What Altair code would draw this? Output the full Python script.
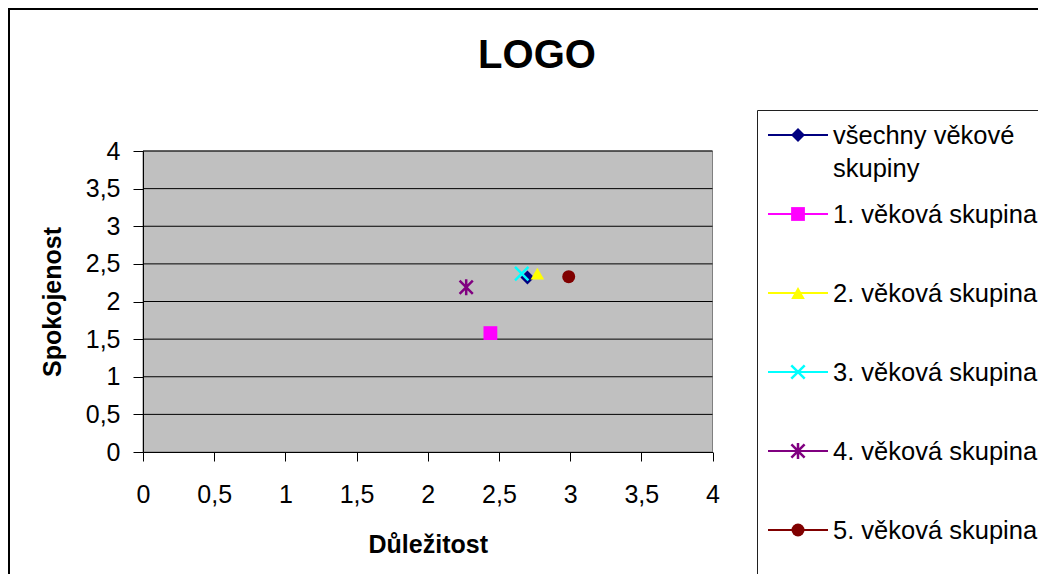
import altair as alt
import pandas as pd

# ---- data ----
SERIES = [
    "všechny věkové skupiny",
    "1. věková skupina",
    "2. věková skupina",
    "3. věková skupina",
    "4. věková skupina",
    "5. věková skupina",
]
LEGEND_LABELS = [
    "všechny věkové\nskupiny",
    "1. věková skupina",
    "2. věková skupina",
    "3. věková skupina",
    "4. věková skupina",
    "5. věková skupina",
]
IMPORTANCE = [2.70, 2.44, 2.77, 2.66, 2.27, 2.99]     # Důležitost (x)
SATISFACTION = [2.32, 1.58, 2.37, 2.37, 2.19, 2.33]   # Spokojenost (y)
TICKS = [0, 0.5, 1, 1.5, 2, 2.5, 3, 3.5, 4]
GRID = [0.5, 1, 1.5, 2, 2.5, 3, 3.5, 4]

COLORS = ["#000080", "#ff00ff", "#ffff00", "#00ffff", "#800080", "#800000"]
X_PATH = "M-1,-1L1,1M-1,1L1,-1"
AST_PATH = "M-1,-1L1,1M-1,1L1,-1M0,-1.2L0,1.2"
SHAPES = ["diamond", "square", "triangle-up", X_PATH, AST_PATH, "circle"]
SIZES = [196, 169, 230, 196, 210, 169]
STROKED = ["3. věková skupina", "4. věková skupina"]
FILLED_SERIES = [s for s in SERIES if s not in STROKED]

FONT = "Liberation Sans"
W, H = 1030, 566

points = pd.DataFrame({"series": SERIES, "x": IMPORTANCE, "y": SATISFACTION})
legend_df = pd.DataFrame({"series": SERIES, "label": LEGEND_LABELS})
grid_df = pd.DataFrame({"v": GRID})
dummy = pd.DataFrame({"a": [0]})

xs = alt.Scale(domain=[0, 4], range=[135, 704.5], nice=False, zero=False)
ys = alt.Scale(domain=[0, 4], range=[444, 143], nice=False, zero=False)
lx = alt.Scale(domain=[0, 1], range=[760, 820], nice=False, zero=False)
ly = alt.Scale(type="point", domain=SERIES, range=[127, 522], padding=0)
color = alt.Color("series:N", scale=alt.Scale(domain=SERIES, range=COLORS), legend=None)
shape = alt.Shape("series:N", scale=alt.Scale(domain=SERIES, range=SHAPES), legend=None)
size = alt.Size("series:N", scale=alt.Scale(domain=SERIES, range=SIZES), legend=None)

label_expr = "replace(toString(datum.value), '.', ',')"
x_axis = alt.Axis(
    values=TICKS, labelExpr=label_expr, grid=False, offset=-122, zindex=1,
    tickSize=9, tickColor="black", domainColor="black", labelColor="black",
    labelFontSize=25, labelFont=FONT, labelPadding=21, labelFlush=False, labelOverlap=False,
    title="Důležitost", titleFont=FONT, titleFontSize=25, titleFontWeight="bold",
    titleColor="black", titleBaseline="alphabetic", titleY=100,
)
y_axis = alt.Axis(
    values=TICKS, labelExpr=label_expr, grid=False, offset=-135, zindex=1,
    tickSize=10, tickColor="black", domainColor="black", labelColor="black",
    labelFontSize=25, labelFont=FONT, labelPadding=13, labelFlush=False, labelOverlap=False,
    title="Spokojenost", titleFont=FONT, titleFontSize=25, titleFontWeight="bold",
    titleColor="black", titleBaseline="alphabetic", titleX=-83,
)

frame = alt.Chart(dummy).mark_rect(fillOpacity=0, stroke="black", strokeWidth=4).encode(
    x=alt.value(0), x2=alt.value(1400), y=alt.value(0), y2=alt.value(900)
)
legend_box = alt.Chart(dummy).mark_rect(fillOpacity=0, stroke="#202020", strokeWidth=1).encode(
    x=alt.value(749.5), x2=alt.value(1400), y=alt.value(102.5), y2=alt.value(576.5)
)

plot_bg = alt.Chart(dummy).mark_rect(fill="#c0c0c0", stroke="#808080", strokeWidth=1).encode(
    x=alt.XDatum(0, type="quantitative", scale=xs, axis=x_axis),
    x2=alt.X2Datum(4),
    y=alt.YDatum(0, type="quantitative", scale=ys, axis=y_axis),
    y2=alt.Y2Datum(4),
)

grid = alt.Chart(grid_df).mark_rule(color="black", strokeWidth=1).encode(
    y=alt.Y("v:Q", scale=ys, axis=None),
    x=alt.XDatum(0, type="quantitative", scale=xs, axis=None),
    x2=alt.X2Datum(4),
)

pts_filled = alt.Chart(points).transform_filter(
    alt.FieldOneOfPredicate(field="series", oneOf=FILLED_SERIES)
).mark_point(filled=True, opacity=1, strokeWidth=0).encode(
    x=alt.X("x:Q", scale=xs, axis=None),
    y=alt.Y("y:Q", scale=ys, axis=None),
    color=color, shape=shape, size=size,
)
pts_stroked = alt.Chart(points).transform_filter(
    alt.FieldOneOfPredicate(field="series", oneOf=STROKED)
).mark_point(filled=False, opacity=1, strokeWidth=2.5).encode(
    x=alt.X("x:Q", scale=xs, axis=None),
    y=alt.Y("y:Q", scale=ys, axis=None),
    color=color, shape=shape, size=size,
)

leg_lines = alt.Chart(legend_df).mark_rule(strokeWidth=2).encode(
    x=alt.XDatum(0, type="quantitative", scale=lx, axis=None),
    x2=alt.X2Datum(1),
    y=alt.Y("series:N", scale=ly, axis=None),
    color=color,
)
leg_filled = alt.Chart(legend_df).transform_filter(
    alt.FieldOneOfPredicate(field="series", oneOf=FILLED_SERIES)
).mark_point(filled=True, opacity=1, strokeWidth=0).encode(
    x=alt.XDatum(0.5, type="quantitative", scale=lx, axis=None),
    y=alt.Y("series:N", scale=ly, axis=None),
    color=color, shape=shape, size=size,
)
leg_stroked = alt.Chart(legend_df).transform_filter(
    alt.FieldOneOfPredicate(field="series", oneOf=STROKED)
).mark_point(filled=False, opacity=1, strokeWidth=2.5).encode(
    x=alt.XDatum(0.5, type="quantitative", scale=lx, axis=None),
    y=alt.Y("series:N", scale=ly, axis=None),
    color=color, shape=shape, size=size,
)
leg_text = alt.Chart(legend_df).mark_text(
    align="left", baseline="alphabetic", dx=5, dy=9, fontSize=25.5, font=FONT,
    color="black", lineBreak="\n", lineHeight=33,
).encode(
    x=alt.XDatum(1, type="quantitative", scale=lx, axis=None),
    y=alt.Y("series:N", scale=ly, axis=None),
    text="label:N",
)

chart = alt.layer(
    frame, legend_box, plot_bg, grid, pts_filled, pts_stroked,
    leg_lines, leg_filled, leg_stroked, leg_text,
).resolve_scale(x="independent", y="independent").properties(
    width=W, height=H,
    autosize=alt.AutoSizeParams(type="none"),
    padding=0,
    background="white",
    title=alt.TitleParams(
        "LOGO", fontSize=40, fontWeight="bold", font=FONT, color="black",
        anchor="middle", frame="group", offset=0, baseline="alphabetic", dy=102, dx=14,
    ),
).configure_view(stroke=None)

chart.save("out.html", embed_options={"renderer": "svg", "actions": False})
